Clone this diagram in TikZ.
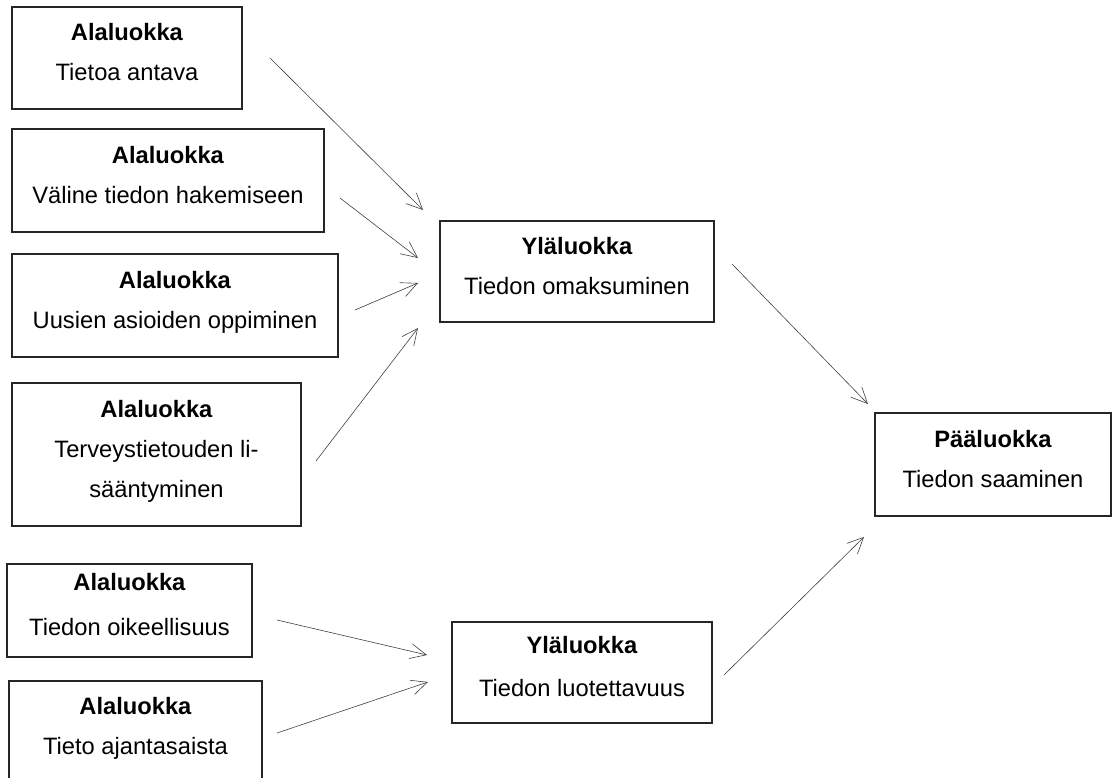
\documentclass[tikz,border=0pt]{standalone}
\usepackage{fontspec}
\setmainfont{Liberation Sans}
\usetikzlibrary{arrows.meta,positioning}
\tikzstyle{box} = [rectangle, draw=black!85, line width=1.1pt, inner sep=0pt, align=center, execute at begin node={\fontsize{23.7}{40}\selectfont}]
\tikzstyle{line} = [draw=black!75, line width=0.6pt, -{Straight Barb[length=16pt,width=15pt]}]
\newcommand{\bstrut}{\rule[-12pt]{0pt}{12pt}}

\begin{document}
\begin{tikzpicture}[x=1pt, y=-1pt]
		\useasboundingbox (0,0) rectangle (1112,778);
		\clip (0,0) rectangle (1112,778);
		% Alaluokat
		\node[box, minimum width=230pt, minimum height=102pt] (TietoaAntava) at (127,58) {\textbf{Alaluokka}\\Tietoa antava\bstrut};
		\node[box, minimum width=312pt, minimum height=103pt] (ValineTiedon) at (168,180.5) {\textbf{Alaluokka}\\Väline tiedon hakemiseen\bstrut};
		\node[box, minimum width=326pt, minimum height=103pt] (UusienAsioiden) at (175,305.5) {\textbf{Alaluokka}\\Uusien asioiden oppiminen\bstrut};
		\node[box, minimum width=289pt, minimum height=143pt] (Terveystieto) at (156.5,454.5) {\textbf{Alaluokka}\\Terveystietouden li-\\sääntyminen\bstrut};
		\node[box, minimum width=245pt, minimum height=93pt] (Oikeellisuus) at (129.5,610.5) {\textbf{Alaluokka}\\[5.5pt]Tiedon oikeellisuus\bstrut};
		\node[box, minimum width=253pt, minimum height=101pt] (Ajantasaisuus) at (135.5,731.5) {\textbf{Alaluokka}\\Tieto ajantasaista\bstrut};
		
		% Yläluokat
		\node[box, minimum width=274pt, minimum height=101pt] (Omaksuminen) at (577,271.5) {\textbf{Yläluokka}\\Tiedon omaksuminen\bstrut};
		\node[box, minimum width=260pt, minimum height=101pt] (Luotettavuus) at (582,672.5) {\textbf{Yläluokka}\\[3pt]Tiedon luotettavuus\bstrut};
		
		% Pääluokka
		\node[box, minimum width=236pt, minimum height=103pt] (Saaminen) at (993,464.5) {\textbf{Pääluokka}\\Tiedon saaminen\bstrut};
		
		% Arrow ends
		\coordinate (TietoaAntavaOut) at (270,58);
		\coordinate (ValineTiedonOut) at (340,198);
		\coordinate (UusienAsioidenOut) at (355,310);
		\coordinate (TerveystietoOut) at (316,461);
		\coordinate (OikeellisuusOut) at (277,620);
		\coordinate (AjantasaisuusOut) at (277,733);
		\coordinate (OmaksuminenOut) at (732,264);
		\coordinate (LuotettavuusOut) at (724,675);
		\coordinate (OmaksuminenInA) at (423,210);
		\coordinate (OmaksuminenInB) at (418,258);
		\coordinate (OmaksuminenInC) at (418,283);
		\coordinate (OmaksuminenInD) at (418,328);
		\coordinate (LuotettavuusInA) at (427,655);
		\coordinate (LuotettavuusInB) at (428,682);
		\coordinate (SaaminenInA) at (868,404);
		\coordinate (SaaminenInB) at (864,537);
		
		% Paths
		\path [line] (TietoaAntavaOut) -- (OmaksuminenInA);
		\path [line] (ValineTiedonOut) -- (OmaksuminenInB);
		\path [line] (UusienAsioidenOut) -- (OmaksuminenInC);
		\path [line] (TerveystietoOut) -- (OmaksuminenInD);
		\path [line] (OikeellisuusOut) -- (LuotettavuusInA);
		\path [line] (AjantasaisuusOut) -- (LuotettavuusInB);
		\path [line] (OmaksuminenOut) -- (SaaminenInA);
		\path [line] (LuotettavuusOut) -- (SaaminenInB);
		
	\end{tikzpicture}
\end{document}
